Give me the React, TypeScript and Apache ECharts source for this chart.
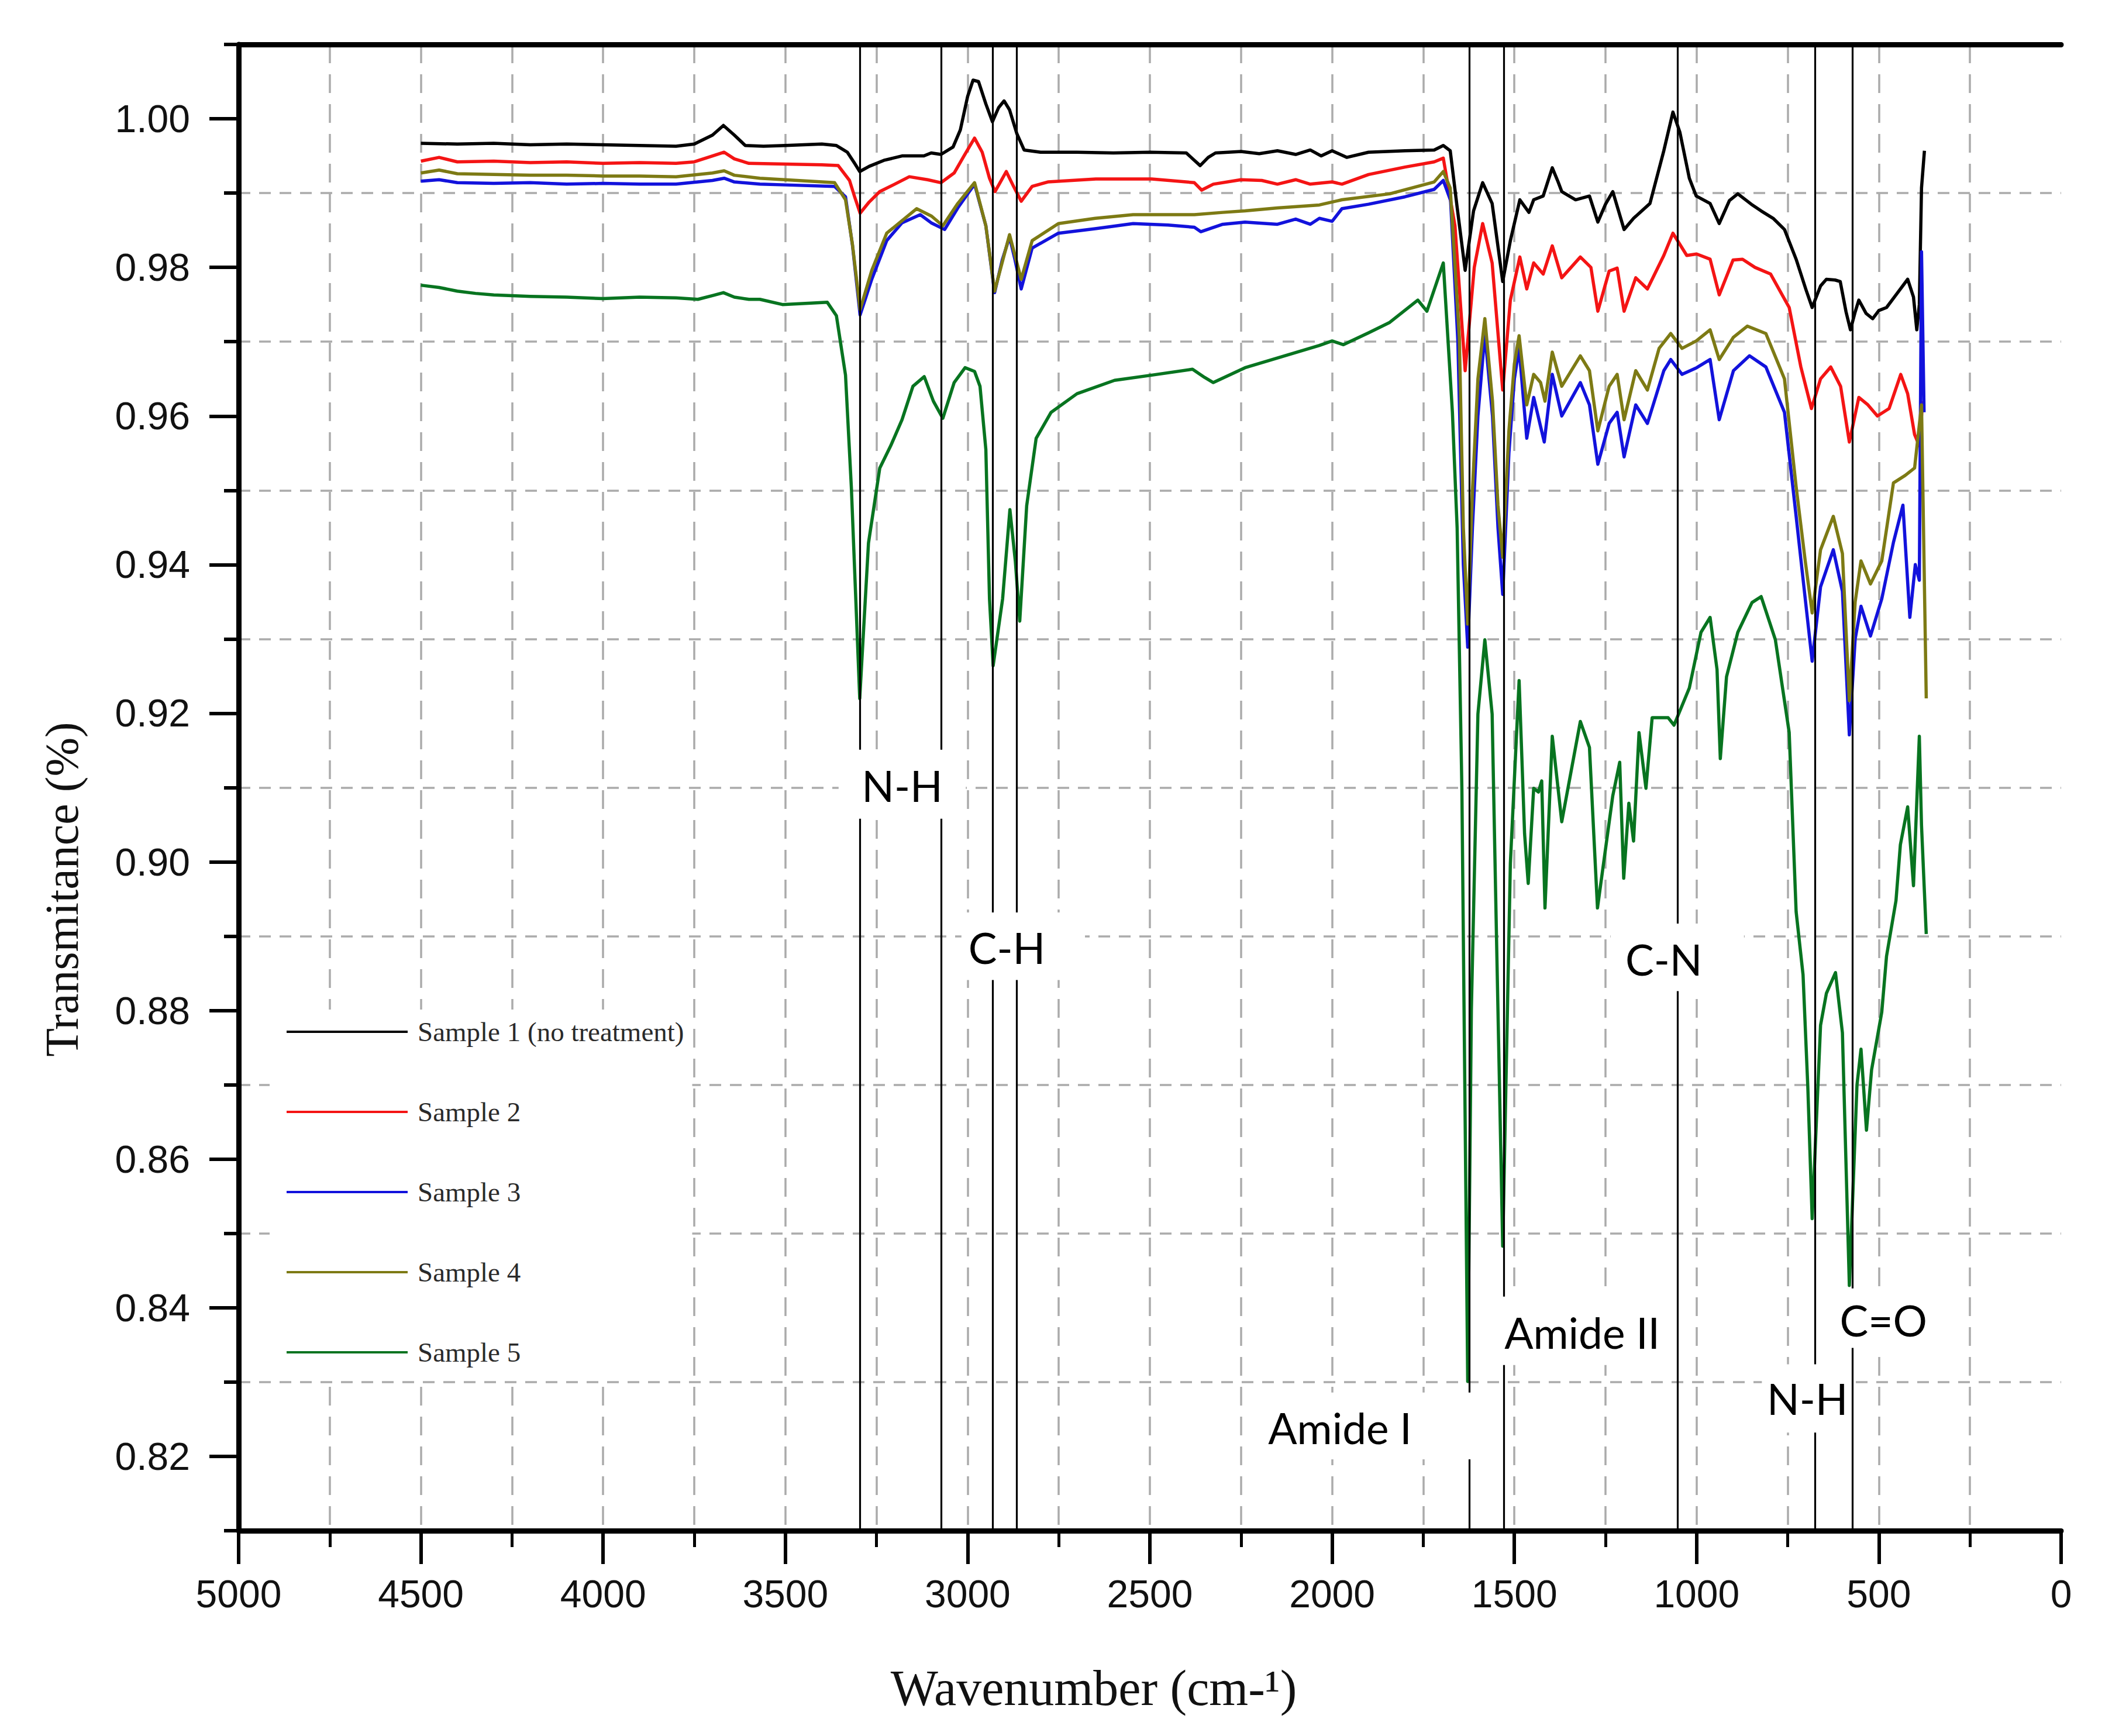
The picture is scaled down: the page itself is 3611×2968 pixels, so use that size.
import React, { useEffect, useRef } from "react";
import * as echarts from "echarts";

// ---------- DATA ----------
const sampleNames = ["Sample 1 (no treatment)", "Sample 2", "Sample 3", "Sample 4", "Sample 5"];

// [wavenumber (cm-1), transmitance]
const sample1: [number, number][] = [
  [4500, 0.9967], [4400, 0.9966], [4300, 0.9967], [4200, 0.9965], [4100, 0.9966], [4000, 0.9965],
  [3900, 0.9964], [3800, 0.9963], [3750, 0.9966], [3700, 0.9978], [3670, 0.9991], [3640, 0.9978],
  [3610, 0.9964], [3560, 0.9963], [3500, 0.9964], [3450, 0.9965], [3400, 0.9966], [3360, 0.9964],
  [3330, 0.9955], [3310, 0.994], [3296, 0.9929], [3270, 0.9936], [3230, 0.9944], [3180, 0.995],
  [3120, 0.995], [3100, 0.9954], [3073, 0.9952], [3040, 0.9962], [3020, 0.9985], [3000, 1.003],
  [2985, 1.0052], [2970, 1.005], [2950, 1.002], [2932, 0.9996], [2915, 1.0015], [2900, 1.0024],
  [2885, 1.0012], [2865, 0.998], [2845, 0.9958], [2800, 0.9955], [2700, 0.9955], [2600, 0.9954],
  [2500, 0.9955], [2400, 0.9954], [2380, 0.9945], [2362, 0.9937], [2340, 0.9948], [2320, 0.9954],
  [2250, 0.9956], [2200, 0.9953], [2150, 0.9957], [2100, 0.9952], [2060, 0.9958], [2030, 0.995],
  [2000, 0.9957], [1960, 0.9948], [1900, 0.9955], [1800, 0.9957], [1720, 0.9958], [1695, 0.9964],
  [1676, 0.9957], [1657, 0.9881], [1635, 0.9796], [1612, 0.9876], [1587, 0.9914], [1561, 0.9886],
  [1532, 0.9781], [1511, 0.9836], [1485, 0.9891], [1460, 0.9874], [1447, 0.9891], [1421, 0.9896],
  [1396, 0.9934], [1380, 0.9915], [1370, 0.9902], [1332, 0.9891], [1294, 0.9896], [1271, 0.9861],
  [1250, 0.9885], [1230, 0.9902], [1199, 0.9851], [1173, 0.9866], [1128, 0.9886], [1090, 0.9957],
  [1065, 1.0009], [1046, 0.9982], [1020, 0.992], [1001, 0.9896], [963, 0.9886], [938, 0.9859],
  [910, 0.989], [887, 0.9899], [850, 0.9885], [823, 0.9876], [790, 0.9866], [759, 0.9851],
  [727, 0.9811], [700, 0.977], [683, 0.9746], [660, 0.9775], [644, 0.9784], [620, 0.9783],
  [606, 0.9781], [590, 0.974], [578, 0.9716], [565, 0.974], [555, 0.9756], [535, 0.9738],
  [517, 0.9731], [500, 0.9742], [479, 0.9746], [450, 0.9765], [421, 0.9784], [405, 0.976],
  [396, 0.9716], [389, 0.975], [383, 0.9907], [375, 0.9957],
];

const sample2: [number, number][] = [
  [4500, 0.9943], [4450, 0.9948], [4400, 0.9942], [4300, 0.9943], [4200, 0.9941], [4100, 0.9942],
  [4000, 0.994], [3900, 0.9941], [3800, 0.994], [3750, 0.9942], [3700, 0.995], [3668, 0.9955],
  [3640, 0.9946], [3600, 0.994], [3500, 0.9939], [3400, 0.9938], [3355, 0.9937], [3324, 0.9917],
  [3310, 0.9895], [3295, 0.9873], [3270, 0.9888], [3241, 0.9902], [3200, 0.9912], [3160, 0.9922],
  [3110, 0.9918], [3073, 0.9914], [3037, 0.9927], [3010, 0.995], [2981, 0.9974], [2960, 0.9955],
  [2940, 0.992], [2925, 0.9902], [2910, 0.9915], [2894, 0.9929], [2875, 0.991], [2853, 0.9889],
  [2823, 0.9909], [2780, 0.9915], [2648, 0.9919], [2495, 0.9919], [2378, 0.9914], [2358, 0.9904],
  [2326, 0.9912], [2250, 0.9918], [2193, 0.9917], [2150, 0.9912], [2100, 0.9918], [2060, 0.9912],
  [2000, 0.9915], [1973, 0.9912], [1900, 0.9925], [1800, 0.9935], [1720, 0.9942], [1695, 0.9947],
  [1663, 0.9856], [1635, 0.9661], [1610, 0.98], [1587, 0.9859], [1561, 0.9806], [1532, 0.9635],
  [1511, 0.9756], [1485, 0.9814], [1466, 0.9771], [1447, 0.9806], [1421, 0.9791], [1396, 0.9829],
  [1370, 0.9786], [1319, 0.9814], [1290, 0.98], [1271, 0.9741], [1240, 0.9795], [1218, 0.9799],
  [1199, 0.9741], [1167, 0.9786], [1135, 0.9771], [1090, 0.9816], [1065, 0.9846], [1027, 0.9816],
  [1000, 0.9818], [963, 0.9811], [938, 0.9763], [900, 0.981], [874, 0.9811], [840, 0.98],
  [797, 0.9791], [746, 0.9746], [714, 0.9666], [685, 0.961], [660, 0.965], [632, 0.9666],
  [605, 0.964], [581, 0.9565], [555, 0.9625], [530, 0.9615], [504, 0.96], [472, 0.961],
  [440, 0.9656], [421, 0.963], [402, 0.9575], [389, 0.956], [380, 0.962],
];

const sample3: [number, number][] = [
  [4500, 0.9916], [4450, 0.9918], [4400, 0.9914], [4300, 0.9913], [4200, 0.9914], [4100, 0.9912],
  [4000, 0.9913], [3900, 0.9912], [3800, 0.9912], [3700, 0.9917], [3668, 0.992], [3640, 0.9915],
  [3570, 0.9912], [3500, 0.9911], [3365, 0.9909], [3335, 0.9895], [3316, 0.983], [3295, 0.9736],
  [3263, 0.9784], [3222, 0.9836], [3180, 0.986], [3130, 0.9871], [3100, 0.986], [3063, 0.9851],
  [3027, 0.988], [2981, 0.9912], [2950, 0.9856], [2926, 0.9766], [2905, 0.981], [2885, 0.9841],
  [2870, 0.981], [2853, 0.9771], [2823, 0.9826], [2751, 0.9846], [2650, 0.9852], [2546, 0.9859],
  [2450, 0.9857], [2378, 0.9854], [2360, 0.9848], [2300, 0.9858], [2239, 0.9861], [2150, 0.9858],
  [2100, 0.9865], [2060, 0.9858], [2035, 0.9866], [2000, 0.9862], [1973, 0.9879], [1900, 0.9885],
  [1800, 0.9895], [1720, 0.9905], [1695, 0.9917], [1675, 0.989], [1655, 0.97], [1640, 0.94],
  [1628, 0.9289], [1615, 0.945], [1600, 0.96], [1581, 0.9711], [1560, 0.96], [1545, 0.945],
  [1532, 0.936], [1515, 0.955], [1500, 0.965], [1487, 0.9691], [1466, 0.957], [1447, 0.9625],
  [1418, 0.9565], [1396, 0.9656], [1370, 0.96], [1319, 0.9645], [1294, 0.9615], [1271, 0.9535],
  [1240, 0.959], [1218, 0.9605], [1199, 0.9545], [1167, 0.9615], [1135, 0.959], [1090, 0.9661],
  [1071, 0.9676], [1040, 0.9656], [1000, 0.9665], [963, 0.9676], [938, 0.9595], [899, 0.9661],
  [855, 0.9681], [810, 0.9666], [759, 0.9605], [727, 0.9465], [702, 0.9354], [683, 0.927],
  [660, 0.937], [625, 0.942], [600, 0.9364], [581, 0.9171], [565, 0.93], [549, 0.9344],
  [523, 0.9304], [492, 0.9354], [460, 0.943], [434, 0.948], [415, 0.9329], [400, 0.94],
  [389, 0.9379], [383, 0.9821], [376, 0.9605],
];

const sample4: [number, number][] = [
  [4500, 0.9927], [4450, 0.9931], [4400, 0.9926], [4300, 0.9925], [4200, 0.9924], [4100, 0.9924],
  [4000, 0.9923], [3900, 0.9923], [3800, 0.9922], [3700, 0.9927], [3668, 0.993], [3640, 0.9924],
  [3570, 0.992], [3365, 0.9914], [3335, 0.9891], [3316, 0.9831], [3295, 0.9743], [3263, 0.9796],
  [3222, 0.9846], [3140, 0.9879], [3099, 0.9869], [3068, 0.9856], [3027, 0.9886], [2981, 0.9914],
  [2950, 0.9856], [2926, 0.9768], [2885, 0.9844], [2853, 0.9784], [2823, 0.9836], [2751, 0.9859],
  [2650, 0.9866], [2546, 0.9871], [2378, 0.9871], [2300, 0.9874], [2239, 0.9876], [2150, 0.988],
  [2035, 0.9884], [1973, 0.9891], [1842, 0.9899], [1720, 0.9915], [1695, 0.9929], [1676, 0.9907],
  [1651, 0.9706], [1640, 0.945], [1628, 0.932], [1615, 0.95], [1600, 0.965], [1581, 0.9731],
  [1560, 0.962], [1545, 0.948], [1532, 0.941], [1515, 0.958], [1500, 0.967], [1487, 0.9708],
  [1466, 0.9615], [1447, 0.9656], [1428, 0.9645], [1416, 0.962], [1396, 0.9686], [1370, 0.964],
  [1319, 0.9681], [1294, 0.9661], [1271, 0.958], [1240, 0.964], [1218, 0.9656], [1199, 0.9595],
  [1167, 0.9661], [1135, 0.9635], [1103, 0.9691], [1071, 0.9711], [1040, 0.9691], [1001, 0.9701],
  [963, 0.9716], [938, 0.9676], [899, 0.9706], [861, 0.9721], [810, 0.9711], [759, 0.965],
  [727, 0.9505], [702, 0.9405], [683, 0.9335], [660, 0.942], [625, 0.9465], [600, 0.9415],
  [581, 0.9217], [565, 0.935], [549, 0.9405], [523, 0.9374], [492, 0.9405], [460, 0.951],
  [428, 0.952], [402, 0.953], [383, 0.9615], [370, 0.922],
];

const sample5: [number, number][] = [
  [4500, 0.9776], [4450, 0.9773], [4400, 0.9768], [4350, 0.9765], [4300, 0.9763], [4200, 0.9761],
  [4100, 0.976], [4000, 0.9758], [3900, 0.976], [3800, 0.9759], [3740, 0.9757], [3700, 0.9762],
  [3670, 0.9766], [3640, 0.976], [3600, 0.9757], [3570, 0.9757], [3508, 0.975], [3430, 0.9752],
  [3385, 0.9753], [3360, 0.9735], [3335, 0.9655], [3319, 0.9504], [3296, 0.922], [3272, 0.9429],
  [3241, 0.953], [3211, 0.956], [3180, 0.9595], [3150, 0.964], [3119, 0.9653], [3094, 0.962],
  [3068, 0.9597], [3037, 0.9645], [3007, 0.9665], [2981, 0.966], [2966, 0.964], [2950, 0.9555],
  [2940, 0.9354], [2930, 0.9264], [2904, 0.9354], [2884, 0.9474], [2869, 0.9404], [2857, 0.9324],
  [2838, 0.9479], [2812, 0.957], [2771, 0.9605], [2700, 0.963], [2597, 0.9648], [2495, 0.9655],
  [2383, 0.9663], [2350, 0.9652], [2326, 0.9645], [2239, 0.9665], [2137, 0.968], [2035, 0.9695],
  [2000, 0.9701], [1969, 0.9696], [1900, 0.9712], [1842, 0.9726], [1765, 0.9756], [1740, 0.9741],
  [1695, 0.9806], [1670, 0.9605], [1657, 0.9449], [1644, 0.9099], [1628, 0.8301], [1618, 0.88],
  [1600, 0.9199], [1581, 0.9299], [1561, 0.9199], [1549, 0.8898], [1532, 0.8483], [1511, 0.8998],
  [1487, 0.9244], [1472, 0.9038], [1462, 0.8971], [1447, 0.9099], [1434, 0.9094], [1425, 0.9109],
  [1416, 0.8938], [1396, 0.9169], [1370, 0.9054], [1319, 0.9189], [1294, 0.9154], [1272, 0.8938],
  [1230, 0.9089], [1211, 0.9134], [1200, 0.8978], [1186, 0.9079], [1173, 0.9028], [1158, 0.9174],
  [1139, 0.9099], [1122, 0.9194], [1078, 0.9194], [1062, 0.9184], [1020, 0.9234], [988, 0.9309],
  [963, 0.9329], [944, 0.9259], [935, 0.9139], [918, 0.9249], [887, 0.9309], [848, 0.9349],
  [823, 0.9357], [784, 0.9299], [746, 0.9174], [727, 0.8933], [708, 0.8848], [695, 0.8698],
  [683, 0.852], [660, 0.878], [644, 0.8823], [619, 0.8851], [600, 0.877], [581, 0.843],
  [560, 0.87], [549, 0.8748], [534, 0.8639], [520, 0.872], [492, 0.8798], [479, 0.8873],
  [453, 0.8948], [441, 0.9023], [421, 0.9074], [405, 0.8968], [389, 0.9169], [383, 0.9049],
  [370, 0.8903],
];

const sampleSeries = [sample1, sample2, sample3, sample4, sample5];

// Wavenumbers of the marked absorption bands (vertical reference lines)
const bandLines = [3296, 3072, 2931, 2866, 1624, 1529, 1053, 675, 572];

// Band labels
const bandLabels = ["N-H", "C-H", "C-N", "Amide II", "Amide I", "N-H", "C=O"];

// ---------- STYLE / LAYOUT ----------
const sampleColors = ["#000000", "#f41414", "#1212dc", "#7d7a14", "#087420"];
// label boxes in data coordinates: [wFrom, wTo, vTop, vBottom], plus label offsets in px
const bandLabelBoxes: [number, number, number, number][] = [
  [3354, 3005, 0.9151, 0.9058],
  [3017, 2678, 0.8932, 0.8841],
  [1236, 870, 0.8917, 0.8826],
  [1555, 1073, 0.8415, 0.8323],
  [2216, 1603, 0.8286, 0.8196],
  [821, 584, 0.8324, 0.8232],
  [600, 375, 0.8426, 0.8346],
];
const bandLabelOffsets: [number, number][] = [
  [0, 2], [-28, 2], [-23, 3], [0, 3], [-43, 3], [4, 0], [0, 3],
];

const gridColor = "#ababab";

export default function App() {
  const ref = useRef<HTMLDivElement>(null);

  useEffect(() => {
    if (!ref.current) return;
    const chart = echarts.init(ref.current, undefined, { renderer: "svg" });

    const series: any[] = sampleSeries.map((d, i) => ({
      type: "line",
      name: sampleNames[i],
      data: d,
      xAxisIndex: 0,
      yAxisIndex: 0,
      showSymbol: false,
      symbol: "none",
      silent: true,
      z: 2,
      lineStyle: { width: 5.5, color: sampleColors[i], join: "round" },
      itemStyle: { color: sampleColors[i] },
    }));

    series.push({
      type: "line",
      name: "bands",
      data: [],
      xAxisIndex: 0,
      yAxisIndex: 0,
      silent: true,
      markLine: {
        silent: true,
        z: 5,
        symbol: ["none", "none"],
        label: { show: false },
        lineStyle: { color: "#000", width: 3.2, type: "solid" },
        emphasis: { disabled: true },
        data: bandLines.map((w) => ({ xAxis: w })),
      },
    });

    series.push({
      type: "line",
      name: "bandLabels",
      data: [],
      xAxisIndex: 0,
      yAxisIndex: 0,
      silent: true,
      markArea: {
        silent: true,
        z: 10,
        itemStyle: { color: "#ffffff", opacity: 1 },
        emphasis: { disabled: true },
        label: {
          show: true,
          position: "inside",
          color: "#000",
          fontFamily: "Lato",
          fontSize: 73,
        },
        data: bandLabelBoxes.map((b, i) => [
          {
            name: bandLabels[i],
            xAxis: b[0],
            yAxis: b[2],
            label: { offset: bandLabelOffsets[i] },
          },
          { xAxis: b[1], yAxis: b[3] },
        ]),
      },
    });

    const option: any = {
      animation: false,
      backgroundColor: "#ffffff",
      grid: { left: 408, right: 87, top: 76, bottom: 351, containLabel: false },
      legend: {
        data: sampleNames,
        orient: "vertical",
        left: 461,
        top: 1726,
        padding: [0, 14, 8, 29],
        itemWidth: 207,
        itemHeight: 4,
        itemGap: 61,
        icon: "rect",
        selectedMode: false,
        backgroundColor: "#ffffff",
        textStyle: {
          fontFamily: "Liberation Serif",
          fontSize: 47,
          lineHeight: 44,
          color: "#2a2a2a",
          padding: [32, 0, 0, 12],
        },
      },
      xAxis: [
        {
          type: "value",
          min: 0,
          max: 5000,
          interval: 500,
          inverse: true,
          position: "bottom",
          name: "Wavenumber (cm-¹)",
          nameLocation: "middle",
          nameGap: 226,
          nameTextStyle: {
            fontFamily: "Liberation Serif",
            fontSize: 86,
            color: "#111",
            padding: [0, 192, 0, 0],
          },
          axisLine: { show: true, onZero: false, lineStyle: { color: "#000", width: 9 } },
          axisTick: { show: true, length: 57, lineStyle: { color: "#000", width: 6 } },
          minorTick: { show: true, splitNumber: 2, length: 28, lineStyle: { color: "#000", width: 5 } },
          axisLabel: {
            margin: 75,
            fontFamily: "Liberation Sans",
            fontSize: 66,
            color: "#111",
            formatter: (v: number) => String(Math.round(v)),
          },
          splitLine: {
            show: true,
            showMinLine: false,
            showMaxLine: false,
            lineStyle: { color: gridColor, width: 3.5, type: [32, 19] },
          },
          minorSplitLine: {
            show: true,
            lineStyle: { color: gridColor, width: 3.5, type: [32, 19] },
          },
        },
        {
          type: "value",
          min: 0,
          max: 5000,
          inverse: true,
          position: "top",
          axisLine: { show: true, onZero: false, lineStyle: { color: "#000", width: 9 } },
          axisTick: { show: false },
          axisLabel: { show: false },
          splitLine: { show: false },
        },
      ],
      yAxis: [
        {
          type: "value",
          min: 0.81,
          max: 1.01,
          interval: 0.02,
          position: "left",
          name: "Transmitance (%)",
          nameLocation: "middle",
          nameGap: 262,
          nameRotate: 90,
          nameTextStyle: {
            fontFamily: "Liberation Serif",
            fontSize: 80,
            color: "#111",
            padding: [0, 348, 0, 0],
          },
          axisLine: { show: true, onZero: false, lineStyle: { color: "#000", width: 9 } },
          axisTick: { show: true, length: 25, lineStyle: { color: "#000", width: 6 } },
          minorTick: { show: true, splitNumber: 2, length: 50, lineStyle: { color: "#000", width: 6 } },
          axisLabel: { show: false },
          splitLine: {
            show: true,
            showMinLine: false,
            showMaxLine: false,
            lineStyle: { color: gridColor, width: 3.5, type: [20, 15] },
          },
        },
        {
          type: "value",
          min: 0.81,
          max: 1.01,
          interval: 0.01,
          position: "left",
          axisLine: { show: false },
          axisTick: { show: false },
          splitLine: { show: false },
          axisLabel: {
            margin: 83,
            fontFamily: "Liberation Sans",
            fontSize: 66,
            color: "#111",
            formatter: (v: number) => (Math.round(v * 100) % 2 === 0 ? v.toFixed(2) : ""),
          },
        },
      ],
      series,
    };

    chart.setOption(option);
    return () => chart.dispose();
  }, []);

  return (
    <div
      ref={ref}
      style={{ position: "absolute", left: 0, top: 0, width: 3611, height: 2968, background: "#fff" }}
    />
  );
}
